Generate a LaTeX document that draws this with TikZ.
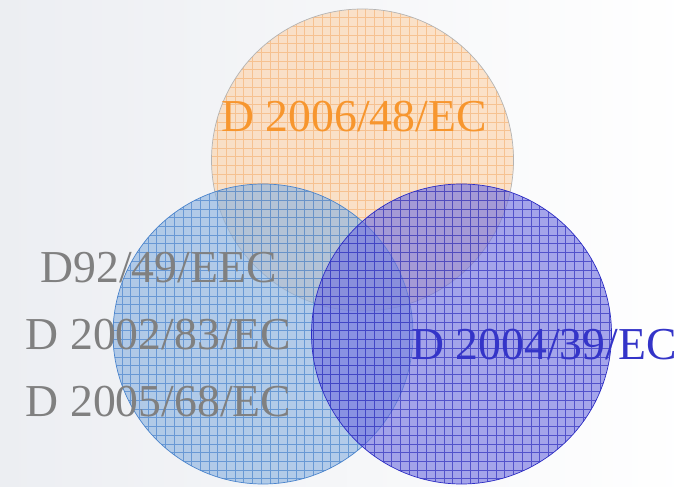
\documentclass[tikz,border=0pt]{standalone}
\usepackage{fontspec}
\setmainfont{Liberation Serif}
\definecolor{bgleft}{HTML}{ECEEF2}
\definecolor{oranfill}{HTML}{FDD3AA}
\definecolor{orangrid}{HTML}{F5B57A}
\definecolor{oranedge}{HTML}{B4B4B4}
\definecolor{bluefill}{HTML}{8AB2E0}
\definecolor{bluegrid}{HTML}{4A84CC}
\definecolor{blueedge}{HTML}{4A84CC}
\definecolor{purpfill}{HTML}{7070E0}
\definecolor{purpgrid}{HTML}{3030BE}
\definecolor{purpedge}{HTML}{2C2CC4}
\definecolor{textgrey}{HTML}{808080}
\definecolor{textoran}{HTML}{F7962E}
\definecolor{textpurp}{HTML}{3434C8}
\begin{document}
\begin{tikzpicture}[
	dirlabel/.style={anchor=base, inner sep=0pt, font=\fontsize{26}{30}\selectfont}]
	\useasboundingbox (0,0) rectangle (13.84,-9.74);
	\shade[left color=bgleft, right color=white] (0,0) rectangle (13.84,-9.74);
	
	% three sets, each filled, gridded and outlined
	\foreach \cx/\cy/\r/\f/\g/\e in {7.25/-3.2/3.02/oranfill/orangrid/oranedge,
		5.26/-6.68/3/bluefill/bluegrid/blueedge,
		9.23/-6.68/3/purpfill/purpgrid/purpedge}{
		\begin{scope}
			\clip (\cx,\cy) circle (\r);
			\fill [\f, fill opacity=0.62] (\cx,\cy) circle (\r);
			\draw [\g, very thin, opacity=0.7, step=0.174] (\cx-\r,\cy-\r) grid (\cx+\r,\cy+\r);
		\end{scope}
		\draw [\e, thin] (\cx,\cy) circle (\r);}
	
	\node [dirlabel, textoran] (d2006) at (7.08,-2.64) {D 2006/48/EC};
	\node [dirlabel, textgrey] (d1992) at (3.17,-5.66) {D92/49/EEC};
	\node [dirlabel, textgrey] (d2002) at (3.17,-6.98) {D 2002/83/EC};
	\node [dirlabel, textgrey] (d2005) at (3.17,-8.32) {D 2005/68/EC};
	\node [dirlabel, textpurp] (d2004) at (10.88,-7.18) {D 2004/39/EC};
\end{tikzpicture}
\end{document}
